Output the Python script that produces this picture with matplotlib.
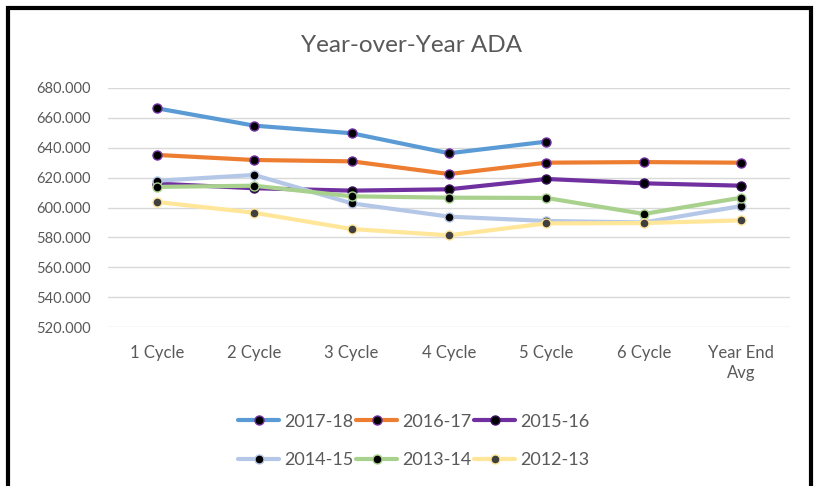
import matplotlib.pyplot as plt
import numpy as np
from matplotlib.patches import Rectangle

plt.rcParams['font.family'] = ['Lato', 'DejaVu Sans']

# data
cycles = ['1 Cycle', '2 Cycle', '3 Cycle', '4 Cycle', '5 Cycle', '6 Cycle', 'Year End\nAvg']
s_2017_18 = [666.4, 654.8, 649.7, 636.3, 644.1, np.nan, np.nan]
s_2016_17 = [635.2, 631.8, 630.9, 622.4, 630.0, 630.4, 630.0]
s_2015_16 = [616.0, 612.9, 611.3, 612.2, 619.1, 616.2, 614.6]
s_2014_15 = [617.9, 621.8, 602.8, 593.9, 591.0, 590.0, 601.0]
s_2013_14 = [613.8, 614.6, 607.5, 606.6, 606.4, 595.7, 606.6]
s_2012_13 = [603.7, 596.5, 585.6, 581.4, 589.4, 589.6, 591.4]

labels = ['2017-18', '2016-17', '2015-16', '2014-15', '2013-14', '2012-13']
series = [s_2017_18, s_2016_17, s_2015_16, s_2014_15, s_2013_14, s_2012_13]
colors = ['#5B9BD5', '#ED7D31', '#7030A0', '#B4C7E7', '#A9D18E', '#FFE699']
mfaces = ['#000000', '#000000', '#000000', '#000000', '#000000', '#404040']
medges = ['#7030A0', '#7030A0', '#3a1060', '#B4C7E7', '#A9D18E', '#FFE699']

yticks = [520, 540, 560, 580, 600, 620, 640, 660, 680]
grey = '#595959'

fig = plt.figure(figsize=(8.19, 4.86), dpi=100)
ax = fig.add_axes([0.132, 0.327, 0.8326, 0.492])

x = np.arange(len(cycles))
lines = []
for lab, vals, c, mf, me in zip(labels, series, colors, mfaces, medges):
    ln, = ax.plot(x, vals, color=c, lw=3.0, marker='o', ms=6.5, mfc=mf, mec=me,
                  mew=1.0, label=lab, solid_capstyle='round')
    lines.append(ln)

ax.set_xlim(-0.5, len(cycles) - 0.5)
ax.set_ylim(520, 680)
ax.set_yticks(yticks)
ax.set_yticklabels(['%.3f' % v for v in yticks])
ax.set_xticks(x)
ax.set_xticklabels(cycles, linespacing=1.3)
ax.tick_params(length=0, colors=grey)
ax.tick_params(axis='y', labelsize=10.5, pad=52)
for lbl in ax.get_yticklabels():
    lbl.set_horizontalalignment('left')
ax.tick_params(axis='x', labelsize=12, pad=13)
ax.grid(axis='y', color='#D9D9D9', lw=1)
ax.set_axisbelow(True)
for sp in ax.spines.values():
    sp.set_visible(False)

fig.text(0.502, 1 - 45 / 486, 'Year-over-Year ADA', ha='center', va='center',
         fontsize=17.5, color=grey)

# legend fills row by row in the reference
order = [0, 3, 1, 4, 2, 5]
fig.legend([lines[i] for i in order], [labels[i] for i in order],
           loc='center', bbox_to_anchor=(0.505, 1 - 441 / 486), ncol=3,
           frameon=False, fontsize=13, labelcolor=grey, handlelength=2.3,
           handletextpad=0.25, columnspacing=0.15, labelspacing=1.25)

# chart frame
fig.patches.append(Rectangle((8 / 819, -0.05), 803 / 819, 1.05 - 8 / 486,
                             transform=fig.transFigure, fill=False,
                             edgecolor='black', lw=3))

fig.savefig('out.png', dpi=100)
